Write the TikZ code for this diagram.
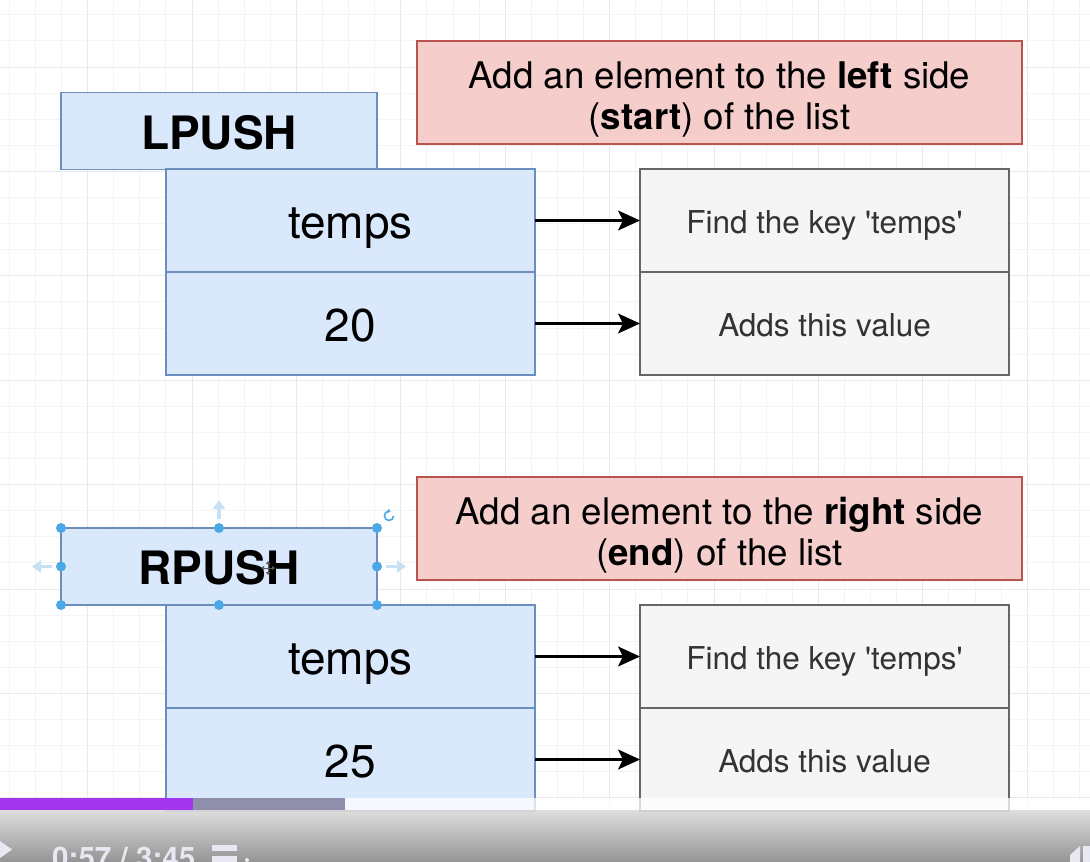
\documentclass[tikz,border=0pt]{standalone}
\usepackage{fontspec}
\setmainfont{TeX Gyre Heros}
\usetikzlibrary{arrows.meta}
\definecolor{bluefill}{HTML}{DAE8FC}
\definecolor{bluedraw}{HTML}{6C8EBF}
\definecolor{redfill}{HTML}{F5CECC}
\definecolor{reddraw}{HTML}{B85450}
\definecolor{grayfill}{HTML}{F5F5F5}
\definecolor{graydraw}{HTML}{666666}
\definecolor{graytext}{HTML}{333333}
\definecolor{gridminor}{HTML}{F4F4F4}
\definecolor{gridmajor}{HTML}{E9E9E9}
\definecolor{handle}{HTML}{4BA8E6}
\definecolor{handlelight}{HTML}{C6E0F4}
\definecolor{barpurple}{HTML}{A335EE}
\definecolor{bargray}{HTML}{8F8FAB}
\definecolor{playtext}{HTML}{E8E8F2}
\tikzset{
  box/.style={draw, line width=1.6pt, inner sep=0pt, outer sep=0pt, align=center},
  keybox/.style={box, fill=bluefill, draw=bluedraw, minimum width=369, minimum height=103,
    text height=36pt, text depth=0pt, font=\fontsize{46}{50}\selectfont},
  cmdbox/.style={box, fill=bluefill, draw=bluedraw, minimum width=316, minimum height=77,
    text height=36pt, text depth=0pt, font=\bfseries\fontsize{46}{50}\selectfont},
  notebox/.style={box, fill=redfill, draw=reddraw, minimum width=605, minimum height=103},
  notetext/.style={inner sep=0pt, align=center, yshift=-7pt, font=\fontsize{36.7}{41}\selectfont},
  infobox/.style={box, fill=grayfill, draw=graydraw, minimum width=369, minimum height=103,
    text height=26pt, text depth=0pt, text=graytext, font=\fontsize{31.5}{36}\selectfont},
  link/.style={draw=black, line width=2.2pt, -{Stealth[length=22pt, width=20pt, inset=5pt]}},
  dot/.style={fill=handle, draw=none},
  hint/.style={draw=handlelight, line width=3.5pt, -{Triangle[length=9pt, width=12pt]}},
}
\begin{document}
\begin{tikzpicture}[x=1pt,y=-1pt]
\useasboundingbox (0,0) rectangle (1090,862);
\clip (0,0) rectangle (1090,862);
\fill[white] (0,0) rectangle (1090,862);
% grid
\foreach \k in {-8,...,35} {
  \pgfmathsetmacro{\gx}{192+26.1*\k}
  \pgfmathtruncatemacro{\m}{mod(\k+40,4)}
  \ifnum\m=0 \draw[gridmajor, line width=1pt] (\gx,0) -- (\gx,862);
  \else \draw[gridminor, line width=1pt] (\gx,0) -- (\gx,862); \fi
}
\foreach \k in {-3,...,31} {
  \pgfmathsetmacro{\gy}{67+26.1*\k}
  \pgfmathtruncatemacro{\m}{mod(\k+40,4)}
  \ifnum\m=0 \draw[gridmajor, line width=1pt] (0,\gy) -- (1090,\gy);
  \else \draw[gridminor, line width=1pt] (0,\gy) -- (1090,\gy); \fi
}
% upper group
\node[cmdbox] (lpush) at (219,131) {LPUSH};
\node[keybox] (key1) at (350.5,220.5) {temps};
\node[keybox] (val1) at (350.5,323.5) {20};
\node[notebox, label={[notetext]center:Add an element to the \textbf{left} side\\(\textbf{start}) of the list}] (note1) at (719.5,92.5) {};
\node[infobox] (find1) at (824.5,220.5) {Find the key \textquotesingle temps\textquotesingle};
\node[infobox] (adds1) at (824.5,323.5) {Adds this value};
\draw[link] (key1.east) -- (find1.west);
\draw[link] (val1.east) -- (adds1.west);
% lower group
\node[cmdbox] (rpush) at (219,566.5) {RPUSH};
\node[keybox] (key2) at (350.5,656.5) {temps};
\node[keybox] (val2) at (350.5,759.5) {25};
\node[notebox, label={[notetext]center:Add an element to the \textbf{right} side\\(\textbf{end}) of the list}] (note2) at (719.5,528.5) {};
\node[infobox] (find2) at (824.5,656.5) {Find the key \textquotesingle temps\textquotesingle};
\node[infobox] (adds2) at (824.5,759.5) {Adds this value};
\draw[link] (key2.east) -- (find2.west);
\draw[link] (val2.east) -- (adds2.west);
% selection handles on RPUSH
\draw[draw=bluedraw!70!gray, line width=1pt, dash pattern=on 3pt off 2pt]
  (rpush.north west) rectangle (rpush.south east);
\foreach \a in {north west,north,north east,east,south east,south,south west,west}
  \fill[dot] (rpush.\a) circle (5);
\draw[hint] ([yshift=9]rpush.north) -- ([yshift=28]rpush.north);
\draw[hint] ([xshift=-9]rpush.west) -- ([xshift=-29]rpush.west);
\draw[hint] ([xshift=9]rpush.east) -- ([xshift=29]rpush.east);
\coordinate (rot) at ([xshift=12,yshift=12]rpush.north east);
\draw[handle, line width=1.6pt, -{Triangle[length=3pt,width=4.5pt]}]
  ([xshift=4.5]rot) arc[start angle=0, end angle=290, radius=4.5];
% cursor
\draw[gray!70!black, line width=1pt, {Triangle[length=3pt,width=4pt]}-{Triangle[length=3pt,width=4pt]}]
  (261,568) -- (275,568);
\draw[gray!70!black, line width=1pt, {Triangle[length=3pt,width=4pt]}-{Triangle[length=3pt,width=4pt]}]
  (268,561) -- (268,575);
% video player bar
\fill[barpurple] (0,798) rectangle (193,810);
\fill[bargray] (193,798) rectangle (345,810);
\fill[white, opacity=0.75] (345,798) rectangle (1090,810);
\shade[top color=black!14, bottom color=black!45, opacity=0.92] (0,810) rectangle (1090,862);
\fill[playtext] (0,841) -- (12,849.5) -- (0,858) -- cycle;
\node[anchor=base west, inner sep=0pt, text=playtext, font=\bfseries\fontsize{29.6}{30}\selectfont]
  (time) at (52,868) {0:57 / 3:45};
\fill[playtext] (212,845) rectangle (237,851);
\fill[playtext] (212,856) rectangle (237,862);
\fill[playtext] (247,860) circle (2);
\fill[playtext] (1070,855) -- (1080,846) -- (1080,862) -- (1070,862) -- cycle;
\fill[playtext] (1083,846) rectangle (1090,862);
\end{tikzpicture}
\end{document}
